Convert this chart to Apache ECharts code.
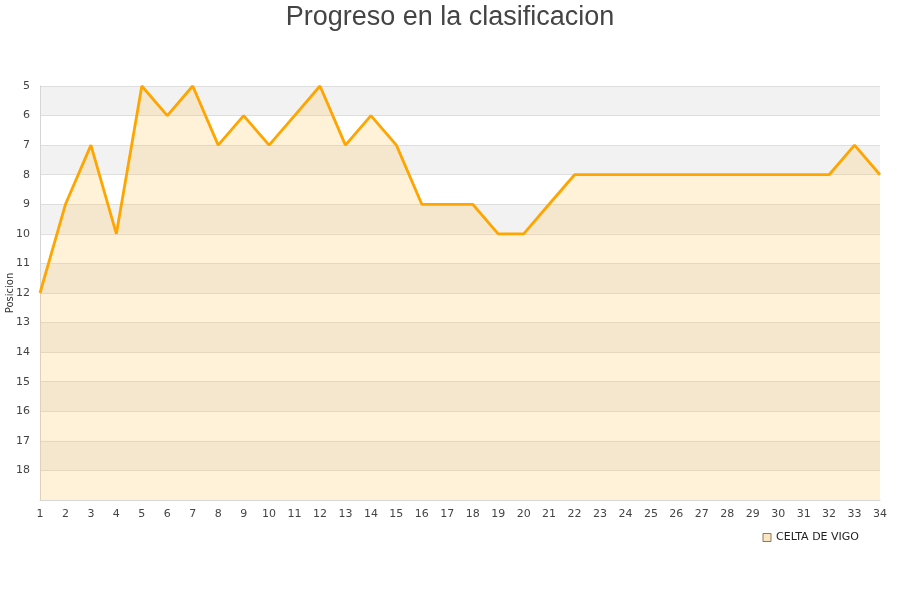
<!DOCTYPE html>
<html>
<head>
<meta charset="utf-8">
<script src="https://cdn.jsdelivr.net/npm/echarts@6/dist/echarts.min.js"></script>
<style>
  html, body { margin: 0; padding: 0; background: #fff; }
  #chart { width: 900px; height: 600px; }
</style>
</head>
<body>
<div id="chart"></div>
<script>
// datos
var jornadas = [];
for (var j = 1; j <= 34; j++) jornadas.push(String(j));
var posiciones = [12, 9, 7, 10, 5, 6, 5, 7, 6, 7, 6, 5, 7, 6, 7, 9, 9, 9, 10, 10,
  9, 8, 8, 8, 8, 8, 8, 8, 8, 8, 8, 8, 7, 8];
var equipo = "CELTA DE VIGO";

var dom = document.getElementById("chart");
var myChart = echarts.init(dom, null, { renderer: "canvas" });

var option = {
  animation: false,
  title: {
    text: "Progreso en la clasificacion",
    left: "center",
    top: -1,
    textStyle: {
      fontFamily: "Liberation Sans",
      fontSize: 27,
      fontWeight: "normal",
      color: "#444"
    }
  },
  legend: {
    data: [equipo],
    right: 36,
    top: 527,
    icon: "rect",
    itemWidth: 8,
    itemHeight: 8,
    itemGap: 10,
    textStyle: { fontFamily: "DejaVu Sans", fontSize: 11, color: "#222" },
    itemStyle: { color: "#fbe6c3", borderColor: "#8a7a5a", borderWidth: 1 }
  },
  grid: { left: 40, right: 20, top: 86, bottom: 100, containLabel: false, outerBoundsMode: "none" },
  xAxis: {
    type: "category",
    data: jornadas,
    boundaryGap: false,
    axisLine: { lineStyle: { color: "#d6d6d6" } },
    axisTick: { show: false },
    axisLabel: { fontFamily: "DejaVu Sans", fontSize: 11, color: "#444", margin: 9 }
  },
  yAxis: {
    type: "value",
    inverse: true,
    min: 5,
    max: 19,
    interval: 1,
    name: "Posicion",
    nameLocation: "middle",
    nameGap: 25,
    nameMoveOverlap: false,
    nameTextStyle: { fontFamily: "DejaVu Sans", fontSize: 10, color: "#333" },
    axisLine: { show: true, lineStyle: { color: "#d6d6d6" } },
    axisTick: { show: false },
    axisLabel: {
      fontFamily: "DejaVu Sans",
      fontSize: 11,
      color: "#444",
      margin: 10,
      formatter: function (v) { return v >= 19 ? "" : String(v); }
    },
    splitLine: { show: true, lineStyle: { color: "#dedede" } },
    splitArea: { show: true, areaStyle: { color: ["#f2f2f2", "#ffffff"] } }
  },
  series: [
    {
      name: equipo,
      type: "line",
      data: posiciones,
      symbol: "none",
      lineStyle: { color: "#ffa500", width: 2.8 },
      itemStyle: { color: "#ffa500" },
      areaStyle: { color: "rgba(255,192,75,0.3)", origin: "end" }
    }
  ]
};

myChart.setOption(option);
window.addEventListener("resize", myChart.resize);
</script>
</body>
</html>
